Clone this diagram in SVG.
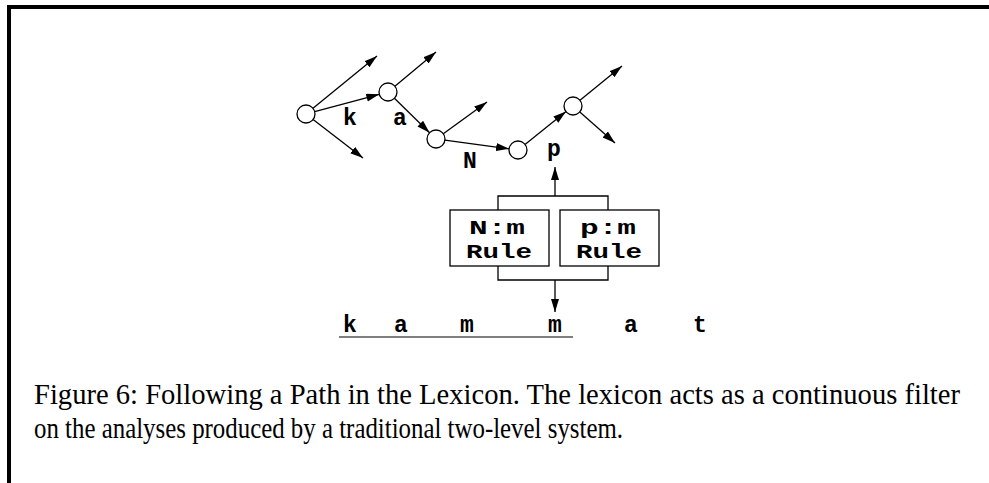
<svg xmlns="http://www.w3.org/2000/svg" width="989" height="483" viewBox="0 0 989 483">
<style>
.ln{stroke:#000;stroke-width:1.3;fill:none}
.ar{stroke:#000;stroke-width:1.3;fill:none;marker-end:url(#ah)}
.nd{fill:#fff;stroke:#000;stroke-width:1.3}
.bx{fill:#fff;stroke:#000;stroke-width:1.3}
.mono{font-family:"Liberation Mono","Courier New",monospace;font-weight:bold;font-size:23px;fill:#000;text-anchor:middle}
.bt{font-size:20px}
.cap{font-family:"Liberation Serif","Times New Roman",serif;font-size:29px;fill:#000}
</style>
<defs>
<marker id="ah" markerUnits="userSpaceOnUse" markerWidth="14" markerHeight="9" refX="13" refY="4" orient="auto">
<path d="M0,0 L13,4 L0,8 z" fill="#000"/>
</marker>
</defs>
<g id="frame">
<rect x="7" y="5" width="982" height="4" fill="#000"/>
<rect x="7" y="5" width="4" height="478" fill="#000"/>
</g>
<g id="connectors">
<line class="ar" x1="313" y1="108.3" x2="377" y2="56"/>
<line class="ar" x1="314.7" y1="111.7" x2="379.3" y2="94.3"/>
<line class="ar" x1="313.1" y1="119.5" x2="363" y2="158"/>
<line class="ar" x1="394.9" y1="86.2" x2="436" y2="52"/>
<line class="ar" x1="394.4" y1="98.3" x2="429.6" y2="132.7"/>
<line class="ar" x1="443.3" y1="133.7" x2="487" y2="102"/>
<line class="ar" x1="444.9" y1="140.2" x2="509.1" y2="148.8"/>
<line class="ar" x1="525" y1="144.4" x2="566" y2="111.6"/>
<line class="ar" x1="580" y1="100.3" x2="622" y2="66"/>
<line class="ar" x1="579.8" y1="112" x2="615" y2="143"/>
<path class="ln" d="M498,210 V196 H608 V210"/>
<line class="ar" x1="555" y1="196" x2="555" y2="167"/>
<path class="ln" d="M498,266 V280 H608 V266"/>
<line class="ar" x1="555" y1="280" x2="555" y2="312"/>
</g>
<g id="node1"><circle class="nd" cx="306" cy="114" r="9"/></g>
<g id="node2"><circle class="nd" cx="388" cy="92" r="9"/></g>
<g id="node3"><circle class="nd" cx="436" cy="139" r="9"/></g>
<g id="node4"><circle class="nd" cx="518" cy="150" r="9"/></g>
<g id="node5"><circle class="nd" cx="573" cy="106" r="9"/></g>
<g id="labels">
<text class="mono" x="350" y="125">k</text>
<text class="mono" x="400" y="125">a</text>
<text class="mono" x="470" y="168">N</text>
<text class="mono" x="554" y="156">p</text>
</g>
<g id="rule-nm">
<rect class="bx" x="450" y="210" width="99" height="56"/>
<text class="mono bt" x="497" y="234" textLength="56" lengthAdjust="spacingAndGlyphs">N:m</text>
<text class="mono bt" x="499" y="258" textLength="66" lengthAdjust="spacingAndGlyphs">Rule</text>
</g>
<g id="rule-pm">
<rect class="bx" x="560" y="210" width="99" height="56"/>
<text class="mono bt" x="608" y="234" textLength="56" lengthAdjust="spacingAndGlyphs">p:m</text>
<text class="mono bt" x="609" y="258" textLength="66" lengthAdjust="spacingAndGlyphs">Rule</text>
</g>
<g id="surface">
<text class="mono" x="350" y="332">k</text>
<text class="mono" x="401" y="332">a</text>
<text class="mono" x="467" y="332">m</text>
<text class="mono" x="555" y="332">m</text>
<text class="mono" x="631" y="332">a</text>
<text class="mono" x="700" y="332">t</text>
<line x1="339" y1="337" x2="573" y2="337" stroke="#555" stroke-width="1.5"/>
</g>
<g id="caption">
<text class="cap" x="34" y="404" textLength="926" lengthAdjust="spacingAndGlyphs">Figure 6: Following a Path in the Lexicon. The lexicon acts as a continuous filter</text>
<text class="cap" x="34" y="438" textLength="589" lengthAdjust="spacingAndGlyphs">on the analyses produced by a traditional two-level system.</text>
</g>
</svg>
